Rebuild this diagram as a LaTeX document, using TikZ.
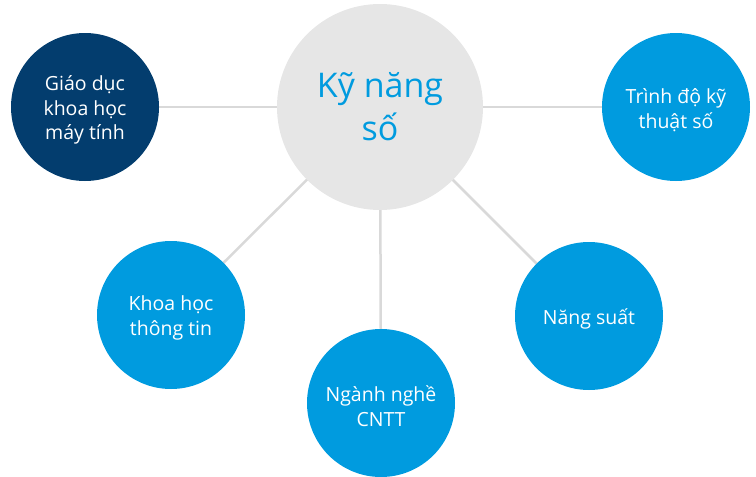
\documentclass[tikz,border=0pt]{standalone}
\usepackage{fontspec}
\setmainfont{Open Sans}
\usetikzlibrary{backgrounds}
\definecolor{cgray}{HTML}{E6E6E6}
\definecolor{cblue}{HTML}{009BDF}
\definecolor{cdark}{HTML}{033D6E}
\definecolor{cline}{HTML}{D9D9D9}
\tikzset{
  bub/.style={circle,draw=none,inner sep=0pt,minimum size=148pt},
  bubtext/.style={align=center,text=white,yshift=-3pt,inner sep=0pt,
    font=\fontsize{19.5}{24.5}\selectfont},
  bluebub/.style={bub,fill=cblue},
  darkbub/.style={bub,fill=cdark},
  hub/.style={circle,fill=cgray,inner sep=0pt,minimum size=206pt,align=center,text=cblue,
    font=\fontsize{34}{43}\selectfont},
  link/.style={draw=cline,line width=2.5pt}
}
\begin{document}
\begin{tikzpicture}[x=1pt,y=-1pt]
\useasboundingbox (0,0) rectangle (756,477);
\node[hub] (hub) at (380,107) {Kỹ năng\\số};
\node[darkbub,label={[bubtext,name=gdt]center:{Giáo dục\\khoa học\\máy tính}}] (gd) at (85,107) {};
\node[bluebub,label={[bubtext,name=tdt]center:{Trình độ kỹ\\thuật số}}] (td) at (676,107) {};
\node[bluebub,label={[bubtext,name=kht]center:{Khoa học\\thông tin}}] (kh) at (171,315) {};
\node[bluebub,label={[bubtext,name=nnt]center:{Ngành nghề\\CNTT}}] (nn) at (381,403) {};
\node[bluebub,label={[bubtext,name=nst]center:{Năng suất}}] (ns) at (589,316) {};
\begin{pgfonlayer}{background}
\draw[link] (hub.center) -- (gd.center);
\draw[link] (hub.center) -- (td.center);
\draw[link] (hub.center) -- (kh.center);
\draw[link] (hub.center) -- (nn.center);
\draw[link] (hub.center) -- (ns.center);
\end{pgfonlayer}
\end{tikzpicture}
\end{document}
